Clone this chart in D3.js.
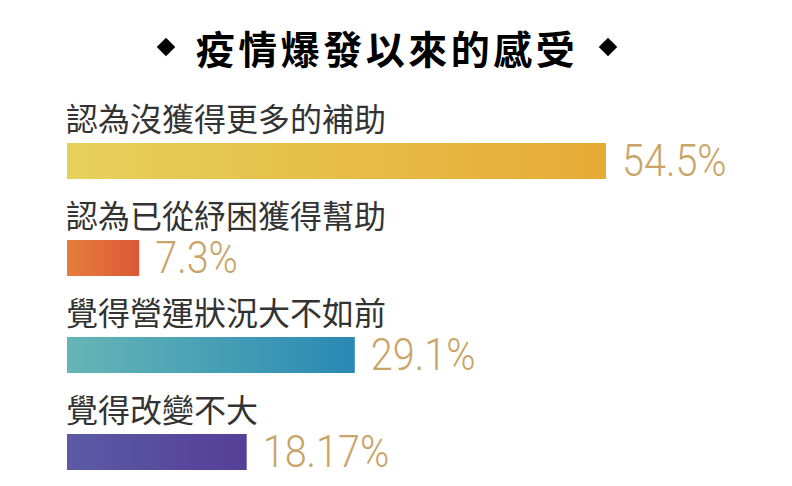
<!DOCTYPE html>
<html>
<head>
<meta charset="utf-8">
<script src="https://cdn.jsdelivr.net/npm/d3@7"></script>
<style>
  body { margin: 0; background: #fff; }
</style>
</head>
<body>
<div id="chart"></div>
<script>
// chart data
var title = "疫情爆發以來的感受";
var categories = ["認為沒獲得更多的補助", "認為已從紓困獲得幫助", "覺得營運狀況大不如前", "覺得改變不大"];
var values = [54.5, 7.3, 29.1, 18.17];
var valueLabels = ["54.5%", "7.3%", "29.1%", "18.17%"];
var colorsFrom = ["#e6d05c", "#e67d3c", "#66b6b6", "#5b5aa6"];
var colorsTo = ["#e6ab35", "#db5836", "#2a89b4", "#553f98"];

function init() {
  var w = 792, h = 486;

  var svg = d3
    .select("#chart")
    .append("svg")
    .attr("width", w)
    .attr("height", h);

  var xScale = d3.scaleLinear().domain([0, 54.5]).range([67, 606]);

  // one row per category: label on top, bar below
  var yScale = d3.scaleBand().domain(categories).range([95, 483]).paddingInner(0);

  var barTop = 48, barH = 36;

  // gradients
  var defs = svg.append("defs");
  categories.forEach(function (c, i) {
    var g = defs
      .append("linearGradient")
      .attr("id", "grad" + i)
      .attr("x1", "0%")
      .attr("x2", "100%");
    g.append("stop").attr("offset", "0%").attr("stop-color", colorsFrom[i]);
    g.append("stop").attr("offset", "100%").attr("stop-color", colorsTo[i]);
  });

  // title
  svg
    .append("text")
    .attr("x", 387)
    .attr("y", 47)
    .attr("text-anchor", "middle")
    .attr("dominant-baseline", "central")
    .style("font-family", "'Noto Sans CJK TC', sans-serif")
    .style("font-weight", "700")
    .style("font-size", "39px")
    .style("letter-spacing", "3.5px")
    .style("fill", "#000")
    .text(title);

  // diamonds either side of title
  [166, 608].forEach(function (cx) {
    svg
      .append("path")
      .attr("d", d3.symbol().type(d3.symbolSquare).size(170))
      .attr("transform", "translate(" + cx + ",47) rotate(45)")
      .attr("fill", "#000");
  });

  var rows = svg
    .selectAll(".row")
    .data(categories)
    .join("g")
    .attr("class", "row")
    .attr("transform", function (d) {
      return "translate(0," + yScale(d) + ")";
    });

  rows
    .append("text")
    .attr("x", 66)
    .attr("y", 22)
    .attr("dominant-baseline", "central")
    .style("font-family", "'Noto Sans CJK TC', sans-serif")
    .style("font-weight", "400")
    .style("font-size", "32px")
    .style("fill", "#333")
    .text(function (d) {
      return d;
    });

  rows
    .append("rect")
    .attr("x", xScale(0))
    .attr("y", barTop)
    .attr("width", function (d, i) {
      return xScale(values[i]) - xScale(0);
    })
    .attr("height", barH)
    .attr("fill", function (d, i) {
      return "url(#grad" + i + ")";
    });

  rows
    .append("text")
    .attr("transform", function (d, i) {
      return "translate(" + (xScale(values[i]) + 16) + "," + (barTop + barH - 3) + ") scale(0.9,1)";
    })
    .style("font-family", "Roboto, sans-serif")
    .style("font-weight", "300")
    .style("font-size", "44px")
    .style("fill", "#c9a468")
    .text(function (d, i) {
      return valueLabels[i];
    });
}

window.onload = init;
</script>
</body>
</html>
